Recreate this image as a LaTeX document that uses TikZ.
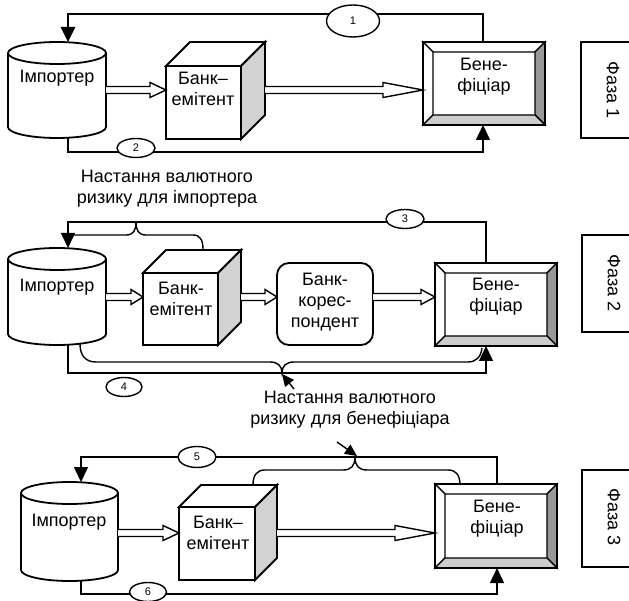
\documentclass[tikz,border=0pt]{standalone}
\usepackage{fontspec}
\setmainfont{Liberation Sans}
\usetikzlibrary{arrows.meta,calc,shapes.geometric}

\definecolor{sidegray}{HTML}{D2D2D2}
\definecolor{bevdark}{HTML}{989898}
\definecolor{bevlight}{HTML}{CDCDCD}

\tikzset{
  line/.style={line width=1.4pt},
  shapeline/.style={line width=1.8pt, line join=miter},
  flow/.style={line width=1.4pt, -{Triangle[width=14pt,length=15pt]}},
  pointer/.style={line width=1.4pt, -{Triangle[width=11pt,length=12pt]}},
  hollow/.style={draw, line width=1.4pt, fill=white, line join=miter},
  oval/.style={ellipse, draw, line width=1.4pt, fill=white, inner sep=0pt,
    minimum width=38pt, minimum height=19pt, font=\fontsize{11}{11}\selectfont},
  lbl/.style={font=\fontsize{18}{21}\selectfont, align=center, inner sep=0pt},
}

% drum (magnetic disk) shape: name, left x, right x, top y, bottom y
\newcommand\drumshape[5]{%
  \pgfmathsetmacro\dcx{(#2+#3)/2}%
  \pgfmathsetmacro\drx{(#3-#2)/2}%
  \pgfmathsetmacro\dka{0.5523*\drx}%
  \pgfmathsetmacro\dya{#4+11}%
  \pgfmathsetmacro\dyb{#5-11}%
  \pgfmathsetmacro\dyc{#5-11+6.1}%
  \draw[shapeline, fill=white] (#2,\dya) -- (#2,\dyb)
     .. controls (#2,\dyc) and (\dcx-\dka,#5) .. (\dcx,#5)
     .. controls (\dcx+\dka,#5) and (#3,\dyc) .. (#3,\dyb) -- (#3,\dya);
  \draw[shapeline, fill=white] (\dcx,\dya) ellipse [x radius=\drx, y radius=11];
  \coordinate (#1) at (\dcx,{(#4+#5)/2});
}

% cube: name, front left x, front top y, front right x, front bottom y, depth
\newcommand\cubeshape[6]{%
  \draw[shapeline, fill=white] (#2,#3) rectangle (#4,#5);
  \draw[shapeline, fill=white] (#2,#3) -- ++(#6,-#6) -- ++({#4-#2},0) -- (#4,#3) -- cycle;
  \draw[shapeline, fill=sidegray] (#4,#3) -- ++(#6,-#6) -- ++(0,{#5-#3}) -- (#4,#5) -- cycle;
  \coordinate (#1) at ({(#2+#4)/2},{(#3+#5)/2});
}

% bevelled frame: name, left x, top y, right x, bottom y
\newcommand\bevelshape[5]{%
  \pgfmathsetmacro\bxa{#2+10}%
  \pgfmathsetmacro\bya{#3+10}%
  \pgfmathsetmacro\bxb{#4-10}%
  \pgfmathsetmacro\byb{#5-10}%
  \draw[line, fill=white] (#2,#3) -- (#4,#3) -- (\bxb,\bya) -- (\bxa,\bya) -- cycle;
  \draw[line, fill=white] (#2,#3) -- (\bxa,\bya) -- (\bxa,\byb) -- (#2,#5) -- cycle;
  \draw[line, fill=bevdark] (#4,#3) -- (#4,#5) -- (\bxb,\byb) -- (\bxb,\bya) -- cycle;
  \draw[line, fill=bevlight] (#2,#5) -- (#4,#5) -- (\bxb,\byb) -- (\bxa,\byb) -- cycle;
  \draw[shapeline] (#2,#3) rectangle (#4,#5);
  \coordinate (#1) at ({(#2+#4)/2},{(#3+#5)/2});
}

% hollow block arrow between two named points on one level: from, to, head length
\newcommand\fatarrow[3]{%
  \draw[hollow] ($(#1)+(0,3.5)$) -- ($(#2)+(-#3,3.5)$) -- ($(#2)+(-#3,7.5)$) -- (#2)
     -- ($(#2)+(-#3,-7.5)$) -- ($(#2)+(-#3,-3.5)$) -- ($(#1)+(0,-3.5)$);
}

\begin{document}
\begin{tikzpicture}[x=1pt,y=-1pt]
\useasboundingbox (0,0) rectangle (629,601);

% ================= phase 1 =================
\drumshape{imp1}{8}{106}{42}{138}
\cubeshape{bank1}{166}{66}{241}{139}{24}
\bevelshape{ben1}{423}{42}{545}{125}

\node[lbl] (imp1t) at (57,78) {Імпортер};
\node[lbl] (bank1t) at (203,89) {Банк–\\емітент};
\node[lbl] (ben1t) at (484,77) {Бене-\\фіціар};

\coordinate (imp1-e) at (106,90);
\coordinate (bank1-w) at (166,90);
\coordinate (bank1-e) at (265,90);
\coordinate (ben1-w) at (423,90);
\coordinate (imp1-n) at (68,42);
\coordinate (imp1-s) at (68,138);
\coordinate (ben1-n) at (483,42);
\coordinate (ben1-s) at (483,125);
\coordinate (lvl1a) at (0,14);
\coordinate (lvl1b) at (0,152);

\fatarrow{imp1-e}{bank1-w}{16}
\fatarrow{bank1-e}{ben1-w}{40}

\draw[flow, line width=2.6pt] (ben1-n) -- (ben1-n |- lvl1a) -| (imp1-n);
\draw[flow] (imp1-s) -- (imp1-s |- lvl1b) -| (ben1-s);
\node[oval, minimum width=53pt, minimum height=32pt] (o1) at (353,21) {1};
\node[oval] (o2) at (136,148) {2};

\draw[shapeline] (629,42) -| (581,138) -- (629,138);
\node[lbl, rotate=-90] (ph1) at (613,90) {Фаза 1};

\node[lbl] (risk1) at (167,189) {Настання валютного\\ризику для імпортера};

% ================= phase 2 =================
\drumshape{imp2}{8}{106}{248}{345}
\cubeshape{bank2}{143}{273}{218}{345}{23}
\draw[shapeline, fill=white, rounded corners=12pt] (277,263) rectangle (373,345);
\bevelshape{ben2}{435}{263}{557}{346}

\node[lbl] (imp2t) at (57,287) {Імпортер};
\node[lbl] (bank2t) at (181,299) {Банк-\\емітент};
\node[lbl] (corr2t) at (325,302) {Банк-\\корес-\\пондент};
\node[lbl] (ben2t) at (496,297) {Бене-\\фіціар};

\coordinate (imp2-e) at (106,297);
\coordinate (bank2-w) at (143,297);
\coordinate (bank2-e) at (241,297);
\coordinate (corr2-w) at (277,297);
\coordinate (corr2-e) at (373,297);
\coordinate (ben2-w) at (435,297);
\coordinate (imp2-n) at (68,248);
\coordinate (imp2-s) at (68,345);
\coordinate (ben2-n) at (486,263);
\coordinate (ben2-s) at (486,346);
\coordinate (lvl2a) at (0,222);
\coordinate (lvl2b) at (0,373);

\fatarrow{imp2-e}{bank2-w}{12}
\fatarrow{bank2-e}{corr2-w}{12}
\fatarrow{corr2-e}{ben2-w}{14}

\draw[flow] (ben2-n) -- (ben2-n |- lvl2a) -| (imp2-n);
\draw[flow] (imp2-s) -- (imp2-s |- lvl2b) -| (ben2-s);

% braces marking the currency risk
\draw[line] (68,235) -- (126,235) .. controls (133,235) and (136,231) .. (136,222)
  .. controls (136,231) and (139,235) .. (146,235) -- (193,235)
  .. controls (200,235) and (203,240) .. (203,249);
\draw[line] (80,344) .. controls (80,356) and (86,362) .. (96,362) -- (270,362)
  .. controls (278,362) and (282,366) .. (282,373)
  .. controls (282,366) and (286,362) .. (294,362) -- (468,362)
  .. controls (476,362) and (481,357) .. (482,348);

\coordinate (tip2) at (282,374);
\coordinate (ptr2) at (294,389);
\draw[pointer] (ptr2) -- (tip2);

\node[oval] (o3) at (405,219) {3};
\node[oval, minimum width=36pt] (o4) at (124,387) {4};

\draw[shapeline] (629,235) -| (582,332) -- (629,332);
\node[lbl, rotate=-90] (ph2) at (614,283) {Фаза 2};

\node[lbl] (risk2) at (350,410) {Настання валютного\\ризику для бенефіціара};

% ================= phase 3 =================
\drumshape{imp3}{21}{118}{482}{581}
\cubeshape{bank3}{179}{507}{255}{580}{22}
\bevelshape{ben3}{435}{484}{557}{568}

\node[lbl] (imp3t) at (69,522) {Імпортер};
\node[lbl] (bank3t) at (218,533) {Банк–\\емітент};
\node[lbl] (ben3t) at (497,519) {Бене-\\фіціар};

\coordinate (imp3-e) at (118,533);
\coordinate (bank3-w) at (179,533);
\coordinate (bank3-e) at (277,533);
\coordinate (ben3-w) at (435,533);
\coordinate (imp3-n) at (81,482);
\coordinate (imp3-s) at (81,581);
\coordinate (ben3-n) at (497,484);
\coordinate (ben3-s) at (497,568);
\coordinate (lvl3a) at (0,457);
\coordinate (lvl3b) at (0,594);

\fatarrow{imp3-e}{bank3-w}{16}
\fatarrow{bank3-e}{ben3-w}{40}

\draw[flow] (ben3-n) -- (ben3-n |- lvl3a) -| (imp3-n);
\draw[flow] (imp3-s) -- (imp3-s |- lvl3b) -| (ben3-s);

\draw[line] (253,485) .. controls (253,475) and (257,470) .. (265,470) -- (343,470)
  .. controls (351,470) and (355,466) .. (355,457)
  .. controls (355,466) and (359,470) .. (367,470) -- (448,470)
  .. controls (456,470) and (460,475) .. (460,485);

\coordinate (tip3) at (357,456);
\coordinate (ptr3) at (337,442);
\draw[pointer] (ptr3) -- (tip3);

\node[oval, minimum height=21pt] (o5) at (197,457) {5};
\node[oval, minimum width=37pt] (o6) at (148,592) {6};

\draw[shapeline] (629,470) -| (582,567) -- (629,567);
\node[lbl, rotate=-90] (ph3) at (614,517) {Фаза 3};
\end{tikzpicture}
\end{document}
